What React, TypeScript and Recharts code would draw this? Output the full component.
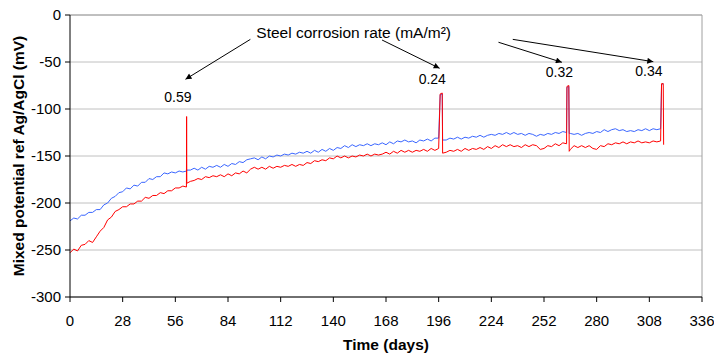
import React from "react";
import {
  LineChart,
  Line,
  XAxis,
  YAxis,
  CartesianGrid,
  ReferenceLine,
  ReferenceDot,
} from "recharts";

// Time in days
const days: number[] = [
  0, 2, 4, 6, 8, 10, 12, 14, 16, 18, 20, 22, 24, 26, 28, 30, 32, 34, 36, 38, 40, 42, 44, 46, 48, 50, 52, 54, 56, 58, 60,
  61.9, 62, 62.1,
  64, 66, 68, 70, 72, 74, 76, 78, 80, 82, 84, 86, 88, 90, 92, 94, 96, 98, 100, 102, 104, 106, 108, 110, 112, 114, 116,
  118, 120, 122, 124, 126, 128, 130, 132, 134, 136, 138, 140, 142, 144, 146, 148, 150, 152, 154, 156, 158, 160, 162,
  164, 166, 168, 170, 172, 174, 176, 178, 180, 182, 184, 186, 188, 190, 192, 194, 196,
  196.8, 197.9, 198.1,
  200, 202, 204, 206, 208, 210, 212, 214, 216, 218, 220, 222, 224, 226, 228, 230, 232, 234, 236, 238, 240, 242, 244,
  246, 248, 250, 252, 254, 256, 258, 260, 262, 264,
  264.2, 265.2, 265.4,
  266, 268, 270, 272, 274, 276, 278, 280, 282, 284, 286, 288, 290, 292, 294, 296, 298, 300, 302, 304, 306, 308, 310,
  312, 314,
  314.5, 315.4, 315.6,
];

// Blue series (mV)
const bluePotential: (number | null)[] = [
  -219, -216, -217, -213, -213, -210, -210, -207, -207, -202, -200, -195, -193, -189, -188, -184, -185, -181, -182,
  -178, -178, -174, -175, -172, -172, -168, -169, -167, -168, -166, -167,
  -166, -166, -165,
  -165, -163, -165, -162, -164, -161, -162, -160, -162, -159, -161, -158, -159, -156, -157, -154, -153, -152, -154,
  -151, -153, -150, -151, -149, -150, -148, -149, -147, -148, -146, -147, -145, -147, -144, -146, -143, -145, -142,
  -144, -141, -142, -139, -141, -138, -140, -138, -139, -137, -139, -137, -138, -136, -138, -135, -137, -134, -135,
  -133, -135, -134, -136, -133, -134, -132, -134, -131, -131,
  -85, -84, -133,
  -133, -131, -132, -130, -132, -130, -131, -129, -130, -128, -130, -128, -127, -128, -126, -127, -125, -127, -125,
  -127, -126, -128, -126, -127, -129, -127, -128, -126, -127, -125, -126, -124, -125,
  -77, -76, -126,
  -126, -127, -126, -128, -126, -125, -126, -124, -125, -122, -124, -122, -121, -123, -122, -124, -123, -124, -122,
  -123, -121, -123, -121, -122, -121,
  -74, -73, null,
];

// Red series (mV)
const redPotential: number[] = [
  -253, -249, -251, -245, -244, -240, -242, -236, -230, -226, -218, -215, -209, -207, -204, -204, -201, -201, -198,
  -198, -194, -195, -192, -192, -189, -190, -187, -187, -184, -184, -182,
  -183, -108, -179,
  -177, -176, -174, -175, -172, -173, -171, -172, -170, -172, -169, -171, -168, -169, -166, -168, -164, -162, -164,
  -162, -164, -161, -163, -161, -162, -160, -161, -159, -161, -159, -160, -157, -158, -155, -156, -154, -155, -152,
  -153, -150, -152, -150, -152, -150, -151, -149, -150, -148, -150, -148, -149, -148, -146, -148, -145, -147, -144,
  -146, -144, -146, -144, -145, -143, -145, -142, -144, -142,
  -84, -83, -147,
  -146, -144, -145, -143, -145, -142, -144, -142, -143, -141, -143, -140, -142, -139, -141, -138, -140, -138, -140,
  -139, -141, -138, -140, -138, -139, -143, -142, -139, -140, -137, -139, -136, -137,
  -76, -75, -145,
  -143, -139, -141, -139, -141, -139, -142, -143, -139, -140, -137, -138, -136, -137, -135, -137, -135, -136, -134,
  -136, -135, -136, -134, -135, -134,
  -73, -73, -138,
];

const xTicks = [0, 28, 56, 84, 112, 140, 168, 196, 224, 252, 280, 308, 336];
const yTicks = [-300, -250, -200, -150, -100, -50, 0];

// Annotations (data coordinates)
const annotationTitle = "Steel corrosion rate (mA/m²)";
const titleAnchor = { day: 150.8, mv: -18.8 };
const rateLabels = ["0.59", "0.24", "0.32", "0.34"];
const rateLabelDays = [57.4, 192.6, 260.2, 307.8];
const rateLabelMv = [-86.9, -68.4, -61.0, -59.3];
const arrowFromDays = [95.9, 165.9, 227.8, 235.4];
const arrowFromMv = [-25.9, -26.6, -29.0, -25.9];
const arrowToDays = [61.4, 196.5, 261.5, 310.1];
const arrowToMv = [-68.4, -56.7, -50.3, -49.7];

const data = days.map((d, i) => ({ day: d, blue: bluePotential[i], red: redPotential[i] }));

const FONT = "'Liberation Sans', Arial, sans-serif";

const ArrowShape = (p: any) => (
  <line x1={p.x1} y1={p.y1} x2={p.x2} y2={p.y2} stroke="#000" strokeWidth={1} markerEnd="url(#arrowHead)" />
);

export default function App() {
  return (
    <div style={{ position: "absolute", left: 0, top: 0 }}>
      <LineChart
        width={714}
        height={355}
        data={data}
        margin={{ top: 15, right: 12, bottom: 0, left: 0 }}
        style={{ fontFamily: FONT, background: "#fff" }}
      >
        <defs>
          <marker
            id="arrowHead"
            viewBox="0 0 10 10"
            refX="10"
            refY="5"
            markerWidth="7"
            markerHeight="6"
            orient="auto"
            markerUnits="userSpaceOnUse"
          >
            <path d="M0,0 L10,5 L0,10 z" fill="#000" />
          </marker>
        </defs>
        <CartesianGrid vertical={false} stroke="#c0c0c0" strokeWidth={1} />
        <XAxis
          dataKey="day"
          type="number"
          domain={[0, 336]}
          ticks={xTicks}
          interval={0}
          stroke="#000"
          tickSize={5}
          tickMargin={13}
          height={58}
          tick={{ fontSize: 15, fill: "#000" }}
          label={{
            content: (props: any) => {
              const vb = props.viewBox;
              return (
                <text
                  x={vb.x + vb.width / 2}
                  y={vb.y + 53}
                  textAnchor="middle"
                  fontSize={15.5}
                  fontWeight="bold"
                  fill="#000"
                  fontFamily={FONT}
                >
                  Time (days)
                </text>
              );
            },
          }}
        />
        <YAxis
          type="number"
          domain={[-300, 0]}
          ticks={yTicks}
          interval={0}
          width={70}
          stroke="#000"
          tickSize={5}
          tickMargin={4}
          tick={{ fontSize: 15, fill: "#000" }}
          label={{
            content: (props: any) => {
              const vb = props.viewBox;
              const cx = vb.x + 18;
              const cy = vb.y + vb.height / 2;
              return (
                <text
                  x={cx}
                  y={cy}
                  transform={`rotate(-90 ${cx} ${cy})`}
                  textAnchor="middle"
                  dominantBaseline="central"
                  fontSize={15.5}
                  fontWeight="bold"
                  fill="#000"
                  fontFamily={FONT}
                >
                  Mixed potential ref Ag/AgCl (mV)
                </text>
              );
            },
          }}
        />
        <ReferenceLine y={0} stroke="#a0a0a0" />
        <ReferenceLine x={336} stroke="#a0a0a0" />
        <Line
          type="linear"
          dataKey="blue"
          stroke="#3a66ff"
          strokeWidth={1}
          dot={false}
          isAnimationActive={false}
        />
        <Line
          type="linear"
          dataKey="red"
          stroke="#ff0000"
          strokeWidth={1}
          dot={false}
          isAnimationActive={false}
        />
        {arrowFromDays.map((d, i) => (
          <ReferenceLine
            key={"arr" + i}
            segment={[
              { x: d, y: arrowFromMv[i] },
              { x: arrowToDays[i], y: arrowToMv[i] },
            ]}
            shape={ArrowShape}
          />
        ))}
        <ReferenceDot
          x={titleAnchor.day}
          y={titleAnchor.mv}
          r={1}
          shape={(p: any) => (
            <text
              x={p.cx}
              y={p.cy}
              textAnchor="middle"
              dominantBaseline="central"
              fontSize={15.5}
              fill="#000"
              fontFamily={FONT}
            >
              {annotationTitle}
            </text>
          )}
        />
        {rateLabels.map((t, i) => (
          <ReferenceDot
            key={"lbl" + i}
            x={rateLabelDays[i]}
            y={rateLabelMv[i]}
            r={1}
            shape={(p: any) => (
              <text
                x={p.cx}
                y={p.cy}
                textAnchor="middle"
                dominantBaseline="central"
                fontSize={14}
                fill="#000"
                fontFamily={FONT}
              >
                {t}
              </text>
            )}
          />
        ))}
      </LineChart>
    </div>
  );
}
